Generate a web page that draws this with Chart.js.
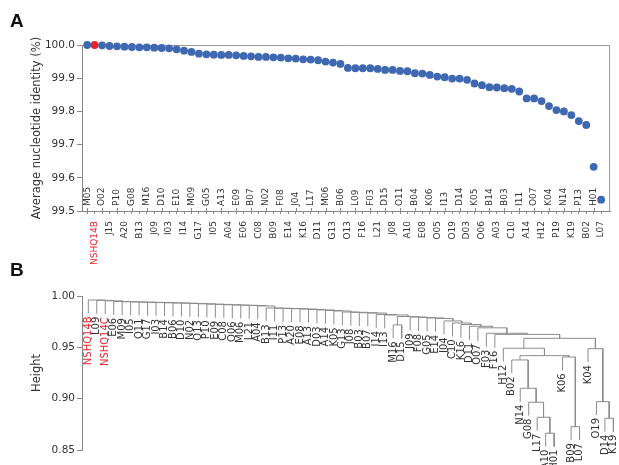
<!DOCTYPE html>
<html>
<head>
<meta charset="utf-8">
<script src="https://cdn.jsdelivr.net/npm/chart.js@4.4.0/dist/chart.umd.min.js"></script>
<style>
  body { margin: 0; background: #fff; }
  #contenedor { position: relative; width: 619px; height: 465px; }
  .letra { position: absolute; font: bold 19px "Liberation Sans", Arial, sans-serif; color: #111; }
  canvas { position: absolute; left: 0; }
</style>
</head>
<body>
<div id="contenedor">
  <canvas id="grafica-ani" width="619" height="268" style="top:0"></canvas>
  <canvas id="grafica-arbol" width="619" height="197" style="top:268px"></canvas>
  <div class="letra" style="left:10px; top:10px">A</div>
  <div class="letra" style="left:10px; top:259px">B</div>
</div>
<script>
// Panel A: aislados ordenados e identidad promedio (%)
const aislados = ['M05','NSHQ14B','O02','J15','P10','A20','G08','B13','M16','J09','D10','I03','E10','I14','M09','G17','G05','I05','A13','A04','E09','E06','B07','C08','N02','B09','F08','E14','J04','K16','L17','D11','M06','G13','B06','O13','L09','F16','F03','L21','D15','J08','O11','A10','B04','E08','K06','O05','I13','O19','D14','D03','K05','O06','B14','A03','B03','C10','I11','A14','O07','H12','K04','P19','N14','K19','P13','B02','H01','L07'];
const identidad = [100.0,100.0,99.999,99.997,99.996,99.995,99.994,99.993,99.993,99.992,99.991,99.990,99.987,99.983,99.979,99.974,99.972,99.971,99.970,99.970,99.969,99.967,99.966,99.964,99.964,99.963,99.962,99.960,99.959,99.957,99.956,99.954,99.950,99.947,99.943,99.931,99.930,99.930,99.930,99.928,99.925,99.925,99.922,99.921,99.915,99.914,99.910,99.905,99.903,99.899,99.899,99.895,99.884,99.879,99.873,99.872,99.870,99.868,99.860,99.839,99.839,99.831,99.816,99.804,99.800,99.789,99.771,99.759,99.633,99.534];
const referencias = ['NSHQ14B', 'NSHQ14C'];

// Panel B: hojas del dendrograma y uniones [izq, der, altura] ('#n' = union n)
const hojas = ['NSHQ14B','L09','NSHQ14C','E06','M09','I05','O11','G17','I03','B14','B06','D10','N02','O13','P10','E09','C08','O06','M06','L21','A04','B13','I11','P13','A20','E08','A13','D03','A14','K05','G13','J08','B03','B07','I14','I13','M16','D15','J09','F08','G05','E14','J04','C10','K16','D11','O07','F03','F16','H12','B02','N14','G08','L17','A10','H01','K06','B09','L07','K04','O19','D14','K19'];
const uniones = [
  ['A10','H01',0.8663], ['L17','#0',0.8819], ['G08','#1',0.8965], ['N14','#2',0.9101],
  ['B02','#3',0.9377], ['B09','L07',0.8727], ['K06','#5',0.9406], ['#4','#6',0.9419],
  ['H12','#7',0.9491], ['D14','K19',0.8809], ['O19','#9',0.8971], ['K04','#10',0.9487],
  ['#8','#11',0.9588], ['F16','#12',0.9626], ['F03','#13',0.9637], ['O07','#14',0.9690],
  ['D11','#15',0.9705], ['K16','#16',0.9722], ['C10','#17',0.9737], ['J04','#18',0.9757],
  ['E14','#19',0.9781], ['G05','#20',0.9786], ['F08','#21',0.9791], ['J09','#22',0.9795],
  ['M16','D15',0.9718], ['#24','#23',0.9800], ['I13','#25',0.9815], ['I14','#26',0.9820],
  ['B07','#27',0.9834], ['B03','#28',0.9837], ['J08','#29',0.9841], ['G13','#30',0.9844],
  ['K05','#31',0.9854], ['A14','#32',0.9859], ['D03','#33',0.9864], ['A13','#34',0.9869],
  ['E08','#35',0.9873], ['A20','#36',0.9876], ['P13','#37',0.9878], ['I11','#38',0.9881],
  ['B13','#39',0.9883], ['A04','#40',0.9903], ['L21','#41',0.9907], ['M06','#42',0.9910],
  ['O06','#43',0.9912], ['C08','#44',0.9915], ['E09','#45',0.9918], ['P10','#46',0.9921],
  ['O13','#47',0.9924], ['N02','#48',0.9927], ['D10','#49',0.9930], ['B06','#50',0.9932],
  ['B14','#51',0.9934], ['I03','#52',0.9936], ['G17','#53',0.9938], ['O11','#54',0.9940],
  ['I05','#55',0.9942], ['M09','#56',0.9944], ['E06','#57',0.9947], ['NSHQ14C','#58',0.9953],
  ['L09','#59',0.9957], ['NSHQ14B','#60',0.9961]
];

const azul = '#3e68b1';
const rojo = '#e3262b';
const gris = '#8c8c8c';
const textoColor = '#333';
const fuente = 'DejaVu Sans';
const caida = 0.013; // colgado de las hojas

// marco superior/derecho y etiquetas pares dentro del area
const extrasPanelA = {
  id: 'extrasPanelA',
  beforeDatasetsDraw: (chart) => {
    const {ctx, chartArea: a} = chart;
    ctx.save();
    ctx.strokeStyle = '#9a9a9a';
    ctx.lineWidth = 1;
    ctx.beginPath();
    ctx.moveTo(a.left, a.top + 0.5);
    ctx.lineTo(a.right - 0.5, a.top + 0.5);
    ctx.lineTo(a.right - 0.5, a.bottom);
    ctx.stroke();
    ctx.restore();
  },
  afterDraw: (chart) => {
    const {ctx, chartArea: a, scales} = chart;
    ctx.save();
    ctx.font = `9px "${fuente}"`;
    ctx.textAlign = 'left';
    ctx.textBaseline = 'middle';
    ctx.strokeStyle = '#888';
    aislados.forEach((nombre, i) => {
      if (i % 2 !== 0) return;
      const x = scales.x.getPixelForValue(i);
      ctx.beginPath();
      ctx.moveTo(Math.round(x) + 0.5, a.bottom);
      ctx.lineTo(Math.round(x) + 0.5, a.bottom - 3);
      ctx.stroke();
      ctx.save();
      ctx.translate(x, a.bottom - 5);
      ctx.rotate(-Math.PI / 2);
      ctx.fillStyle = referencias.includes(nombre) ? rojo : textoColor;
      ctx.fillText(nombre, 0, 0);
      ctx.restore();
    });
    ctx.restore();
  }
};

const dibujarGraficaAni = () => {
  new Chart(document.getElementById('grafica-ani'), {
    type: 'scatter',
    data: {
      datasets: [{
        data: aislados.map((a, i) => ({x: i, y: identidad[i]})),
        pointRadius: 3.9,
        pointBorderWidth: 0,
        pointBackgroundColor: aislados.map(a => referencias.includes(a) ? rojo : azul),
        clip: false
      }]
    },
    options: {
      responsive: false,
      animation: false,
      layout: {padding: {left: 0, right: 2, top: 45, bottom: 0}},
      plugins: {legend: {display: false}, tooltip: {enabled: false}},
      scales: {
        x: {
          type: 'linear', min: -0.7, max: 70.2,
          afterBuildTicks: (s) => { s.ticks = aislados.map((_, i) => ({value: i})); },
          afterFit: (s) => { s.height = 57; },
          grid: {drawOnChartArea: false, tickLength: 3, color: '#888'},
          border: {color: '#888'},
          ticks: {
            autoSkip: false, minRotation: 90, maxRotation: 90, padding: 7,
            font: {family: fuente, size: 9},
            color: (c) => referencias.includes(aislados[c.tick.value]) ? rojo : textoColor,
            callback: (v) => v % 2 === 1 ? aislados[v] : ''
          }
        },
        y: {
          min: 99.5, max: 100,
          afterFit: (s) => { s.width = 82; },
          grid: {drawOnChartArea: false, tickLength: 5, color: '#888'},
          border: {color: '#888'},
          ticks: {stepSize: 0.1, padding: 2, color: textoColor, font: {family: fuente, size: 10.5},
                  callback: (v) => v.toFixed(1)},
          title: {display: true, text: 'Average nucleotide identity (%)', color: textoColor,
                  font: {family: fuente, size: 11.5}, padding: {top: 30, bottom: 0}}
        }
      }
    },
    plugins: [extrasPanelA]
  });
};

// construir segmentos del dendrograma a partir de las uniones
const finHoja = {};
const construirSegmentos = () => {
  const nodos = {};
  hojas.forEach((h, i) => { nodos[h] = {x: i, hoja: true}; });
  return uniones.map(([a, b, altura], k) => {
    const na = nodos[a], nb = nodos[b];
    const ya = na.hoja ? altura - caida : na.h;
    const yb = nb.hoja ? altura - caida : nb.h;
    if (na.hoja) finHoja[a] = ya;
    if (nb.hoja) finHoja[b] = yb;
    nodos['#' + k] = {x: (na.x + nb.x) / 2, h: altura};
    return {
      data: [{x: na.x, y: ya}, {x: na.x, y: altura}, {x: nb.x, y: altura}, {x: nb.x, y: yb}],
      showLine: true, pointRadius: 0, borderColor: gris, borderWidth: 1, clip: false
    };
  });
};

const etiquetasHojas = {
  id: 'etiquetasHojas',
  afterDraw: (chart) => {
    const {ctx, scales} = chart;
    ctx.save();
    ctx.font = `10px "${fuente}"`;
    ctx.textAlign = 'right';
    ctx.textBaseline = 'middle';
    hojas.forEach((h, i) => {
      const x = scales.x.getPixelForValue(i);
      const y = scales.y.getPixelForValue(finHoja[h]) + 3;
      ctx.save();
      ctx.translate(x, y);
      ctx.rotate(-Math.PI / 2);
      ctx.fillStyle = referencias.includes(h) ? rojo : textoColor;
      ctx.fillText(h, 0, 0);
      ctx.restore();
    });
    ctx.restore();
  }
};

const dibujarDendrograma = () => {
  new Chart(document.getElementById('grafica-arbol'), {
    type: 'scatter',
    data: {datasets: construirSegmentos()},
    options: {
      responsive: false,
      animation: false,
      layout: {padding: {left: 0, right: 0, top: 28, bottom: 15}},
      plugins: {legend: {display: false}, tooltip: {enabled: false}},
      scales: {
        x: {type: 'linear', display: false, min: -0.744, max: 62.66},
        y: {
          min: 0.85, max: 1.0,
          afterFit: (s) => { s.width = 82; },
          grid: {drawOnChartArea: false, tickLength: 5, color: '#888'},
          border: {color: '#888'},
          ticks: {stepSize: 0.05, padding: 2, color: textoColor, font: {family: fuente, size: 10.5},
                  callback: (v) => v.toFixed(2)},
          title: {display: true, text: 'Height', color: textoColor,
                  font: {family: fuente, size: 11.5}, padding: {top: 30, bottom: 0}}
        }
      }
    },
    plugins: [etiquetasHojas]
  });
};

dibujarGraficaAni();
dibujarDendrograma();
</script>
</body>
</html>
